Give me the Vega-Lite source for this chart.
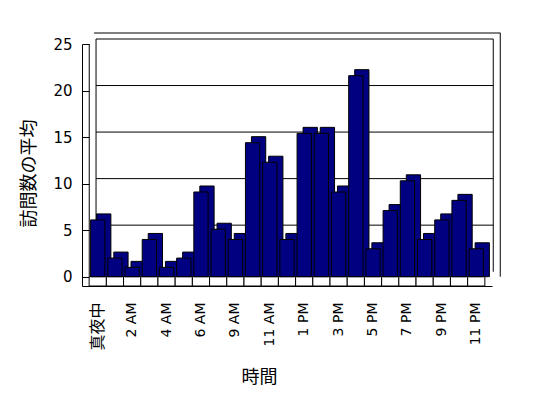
{
  "$schema": "https://vega.github.io/schema/vega-lite/v6.json",
  "width": 410,
  "height": 242,
  "autosize": {"type": "none"},
  "padding": {"left": 82, "top": 44, "right": 56, "bottom": 112},
  "background": "white",
  "config": {
    "view": {"stroke": null},
    "font": "DejaVu Sans",
    "axisX": {
      "labelAngle": 270,
      "ticks": false,
      "grid": false,
      "labelPadding": 16,
      "labelFontSize": 14,
      "labelColor": "black",
      "domainColor": "black",
      "titleFont": "Noto Sans CJK JP",
      "titleFontSize": 18,
      "titleFontWeight": "normal",
      "titleColor": "black",
      "titleX": 177,
      "titleY": 91,
      "titleAlign": "center",
      "titleBaseline": "middle"
    },
    "axisY": {
      "ticks": true,
      "tickSize": -7,
      "tickColor": "black",
      "grid": false,
      "labelPadding": 17,
      "labelFontSize": 15,
      "labelColor": "black",
      "domainColor": "black",
      "titleFont": "Noto Sans CJK JP",
      "titleFontSize": 18,
      "titleFontWeight": "normal",
      "titleColor": "black",
      "titleAngle": 270,
      "titleX": -53,
      "titleY": 129,
      "titleAlign": "center",
      "titleBaseline": "middle"
    }
  },
  "datasets": {
    "visits": [
      {"hour": "真夜中", "avg": 6.1},
      {"hour": "1 AM", "avg": 2},
      {"hour": "2 AM", "avg": 1},
      {"hour": "3 AM", "avg": 4},
      {"hour": "4 AM", "avg": 1},
      {"hour": "5 AM", "avg": 2},
      {"hour": "6 AM", "avg": 9.1},
      {"hour": "8 AM", "avg": 5.1},
      {"hour": "9 AM", "avg": 4},
      {"hour": "10 AM", "avg": 14.4},
      {"hour": "11 AM", "avg": 12.3},
      {"hour": "12 PM", "avg": 4},
      {"hour": "1 PM", "avg": 15.4},
      {"hour": "2 PM", "avg": 15.4},
      {"hour": "3 PM", "avg": 9.1},
      {"hour": "4 PM", "avg": 21.6},
      {"hour": "5 PM", "avg": 3},
      {"hour": "6 PM", "avg": 7.1},
      {"hour": "7 PM", "avg": 10.3},
      {"hour": "8 PM", "avg": 4},
      {"hour": "9 PM", "avg": 6.1},
      {"hour": "10 PM", "avg": 8.2},
      {"hour": "11 PM", "avg": 3}
    ],
    "grid": [
      {"v": 5, "a": "真夜中", "b": "11 PM"},
      {"v": 10, "a": "真夜中", "b": "11 PM"},
      {"v": 15, "a": "真夜中", "b": "11 PM"},
      {"v": 20, "a": "真夜中", "b": "11 PM"},
      {"v": 25, "a": "真夜中", "b": "11 PM"}
    ],
    "edgeR": [{"h": "11 PM", "lo": 0, "hi": 25, "top": 26.2}],
    "edgeL": [{"h": "真夜中", "lo": 0, "hi": 25}]
  },
  "layer": [
    {
      "data": {"name": "grid"},
      "mark": {"type": "rule", "color": "black", "strokeWidth": 1, "yOffset": -5, "y2Offset": -5, "xOffset": -1.7, "x2Offset": 17},
      "encoding": {
        "x": {"field": "a", "type": "nominal", "title": "時間", "scale": {"domain": ["真夜中", "1 AM", "2 AM", "3 AM", "4 AM", "5 AM", "6 AM", "8 AM", "9 AM", "10 AM", "11 AM", "12 PM", "1 PM", "2 PM", "3 PM", "4 PM", "5 PM", "6 PM", "7 PM", "8 PM", "9 PM", "10 PM", "11 PM"], "paddingInner": 0.17, "paddingOuter": 0.5}},
        "x2": {"field": "b"},
        "y": {"field": "v", "type": "quantitative", "title": "訪問数の平均", "scale": {"domain": [-1, 25], "nice": false}}
      }
    },
    {
      "data": {"name": "grid"},
      "transform": [{"filter": "datum.v == 25"}],
      "mark": {"type": "rule", "color": "black", "strokeWidth": 1, "yOffset": -11, "y2Offset": -11, "xOffset": -3.7, "x2Offset": 24},
      "encoding": {
        "x": {"field": "a", "type": "nominal", "title": "時間", "scale": {"domain": ["真夜中", "1 AM", "2 AM", "3 AM", "4 AM", "5 AM", "6 AM", "8 AM", "9 AM", "10 AM", "11 AM", "12 PM", "1 PM", "2 PM", "3 PM", "4 PM", "5 PM", "6 PM", "7 PM", "8 PM", "9 PM", "10 PM", "11 PM"], "paddingInner": 0.17, "paddingOuter": 0.5}},
        "x2": {"field": "b"},
        "y": {"field": "v", "type": "quantitative", "title": "訪問数の平均", "scale": {"domain": [-1, 25], "nice": false}}
      }
    },
    {
      "data": {"name": "edgeR"},
      "mark": {"type": "rule", "color": "black", "strokeWidth": 1, "xOffset": 17, "yOffset": -5, "y2Offset": -5},
      "encoding": {
        "x": {"field": "h", "type": "nominal", "title": "時間", "scale": {"domain": ["真夜中", "1 AM", "2 AM", "3 AM", "4 AM", "5 AM", "6 AM", "8 AM", "9 AM", "10 AM", "11 AM", "12 PM", "1 PM", "2 PM", "3 PM", "4 PM", "5 PM", "6 PM", "7 PM", "8 PM", "9 PM", "10 PM", "11 PM"], "paddingInner": 0.17, "paddingOuter": 0.5}},
        "y": {"field": "lo", "type": "quantitative", "title": "訪問数の平均", "scale": {"domain": [-1, 25], "nice": false}},
        "y2": {"field": "hi"}
      }
    },
    {
      "data": {"name": "edgeR"},
      "mark": {"type": "rule", "color": "black", "strokeWidth": 1, "xOffset": 24},
      "encoding": {
        "x": {"field": "h", "type": "nominal", "title": "時間", "scale": {"domain": ["真夜中", "1 AM", "2 AM", "3 AM", "4 AM", "5 AM", "6 AM", "8 AM", "9 AM", "10 AM", "11 AM", "12 PM", "1 PM", "2 PM", "3 PM", "4 PM", "5 PM", "6 PM", "7 PM", "8 PM", "9 PM", "10 PM", "11 PM"], "paddingInner": 0.17, "paddingOuter": 0.5}},
        "y": {"field": "lo", "type": "quantitative", "title": "訪問数の平均", "scale": {"domain": [-1, 25], "nice": false}},
        "y2": {"field": "top"}
      }
    },
    {
      "data": {"name": "edgeL"},
      "mark": {"type": "rule", "color": "black", "strokeWidth": 1, "xOffset": -8.5},
      "encoding": {
        "x": {"field": "h", "type": "nominal", "title": "時間", "scale": {"domain": ["真夜中", "1 AM", "2 AM", "3 AM", "4 AM", "5 AM", "6 AM", "8 AM", "9 AM", "10 AM", "11 AM", "12 PM", "1 PM", "2 PM", "3 PM", "4 PM", "5 PM", "6 PM", "7 PM", "8 PM", "9 PM", "10 PM", "11 PM"], "paddingInner": 0.17, "paddingOuter": 0.5}},
        "y": {"field": "lo", "type": "quantitative", "title": "訪問数の平均", "scale": {"domain": [-1, 25], "nice": false}},
        "y2": {"field": "hi"}
      }
    },
    {
      "data": {"name": "edgeL"},
      "mark": {"type": "rule", "color": "black", "strokeWidth": 1, "xOffset": -1.7, "yOffset": -5, "y2Offset": -5},
      "encoding": {
        "x": {"field": "h", "type": "nominal", "title": "時間", "scale": {"domain": ["真夜中", "1 AM", "2 AM", "3 AM", "4 AM", "5 AM", "6 AM", "8 AM", "9 AM", "10 AM", "11 AM", "12 PM", "1 PM", "2 PM", "3 PM", "4 PM", "5 PM", "6 PM", "7 PM", "8 PM", "9 PM", "10 PM", "11 PM"], "paddingInner": 0.17, "paddingOuter": 0.5}},
        "y": {"field": "lo", "type": "quantitative", "title": "訪問数の平均", "scale": {"domain": [-1, 25], "nice": false}},
        "y2": {"field": "hi"}
      }
    },
    {
      "data": {"name": "visits"},
      "mark": {"type": "bar", "color": "#000080", "stroke": "black", "strokeWidth": 1, "xOffset": 6, "yOffset": -6},
      "encoding": {
        "x": {"field": "hour", "type": "nominal", "title": "時間", "scale": {"domain": ["真夜中", "1 AM", "2 AM", "3 AM", "4 AM", "5 AM", "6 AM", "8 AM", "9 AM", "10 AM", "11 AM", "12 PM", "1 PM", "2 PM", "3 PM", "4 PM", "5 PM", "6 PM", "7 PM", "8 PM", "9 PM", "10 PM", "11 PM"], "paddingInner": 0.17, "paddingOuter": 0.5}},
        "y": {"field": "avg", "type": "quantitative", "title": "訪問数の平均", "scale": {"domain": [-1, 25], "nice": false}},
        "y2": {"datum": 0}
      }
    },
    {
      "data": {"name": "visits"},
      "mark": {"type": "bar", "fill": "white", "stroke": "black", "strokeWidth": 1, "width": {"band": 1.2048}},
      "encoding": {
        "x": {"field": "hour", "type": "nominal", "title": "時間", "scale": {"domain": ["真夜中", "1 AM", "2 AM", "3 AM", "4 AM", "5 AM", "6 AM", "8 AM", "9 AM", "10 AM", "11 AM", "12 PM", "1 PM", "2 PM", "3 PM", "4 PM", "5 PM", "6 PM", "7 PM", "8 PM", "9 PM", "10 PM", "11 PM"], "paddingInner": 0.17, "paddingOuter": 0.5}},
        "y": {"datum": 0, "type": "quantitative", "title": "訪問数の平均", "scale": {"domain": [-1, 25], "nice": false}},
        "y2": {"datum": -1}
      }
    },
    {
      "data": {"name": "visits"},
      "mark": {"type": "bar", "color": "#000080", "stroke": "black", "strokeWidth": 1},
      "encoding": {
        "x": {
          "field": "hour", "type": "nominal", "title": "時間",
          "scale": {"domain": ["真夜中", "1 AM", "2 AM", "3 AM", "4 AM", "5 AM", "6 AM", "8 AM", "9 AM", "10 AM", "11 AM", "12 PM", "1 PM", "2 PM", "3 PM", "4 PM", "5 PM", "6 PM", "7 PM", "8 PM", "9 PM", "10 PM", "11 PM"], "paddingInner": 0.17, "paddingOuter": 0.5},
          "axis": {
            "values": ["真夜中", "2 AM", "4 AM", "6 AM", "9 AM", "11 AM", "1 PM", "3 PM", "5 PM", "7 PM", "9 PM", "11 PM"],
            "labelColor": "black",
            "labelFont": {"condition": {"test": "datum.value === '真夜中'", "value": "Noto Sans CJK JP"}, "value": "DejaVu Sans"},
            "labelFontSize": {"condition": {"test": "datum.value === '真夜中'", "value": 16}, "value": 14}
          }
        },
        "y": {
          "field": "avg", "type": "quantitative", "title": "訪問数の平均",
          "scale": {"domain": [-1, 25], "nice": false},
          "axis": {"values": [0, 5, 10, 15, 20, 25]}
        },
        "y2": {"datum": 0}
      }
    }
  ]
}
